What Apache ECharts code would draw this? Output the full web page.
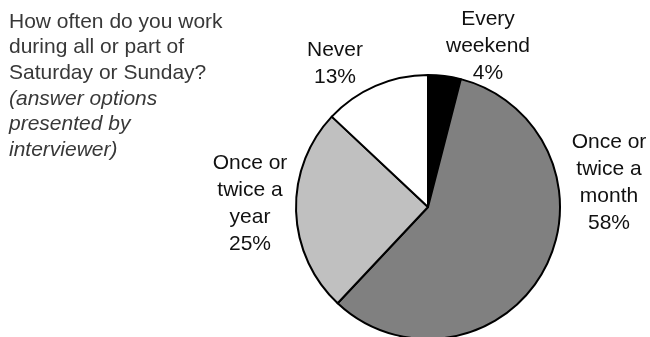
<!DOCTYPE html>
<html>
<head>
<meta charset="utf-8">
<script src="https://cdn.jsdelivr.net/npm/echarts@6/dist/echarts.min.js"></script>
<style>
  html, body { margin: 0; padding: 0; background: #fff; }
  #chart { width: 650px; height: 337px; }
</style>
</head>
<body>
<div id="chart"></div>
<script>
// Survey answers, clockwise from 12 o'clock
const categories = ['Every\nweekend', 'Once or\ntwice a\nmonth', 'Once or\ntwice a\nyear', 'Never'];
const shares = [4, 58, 25, 13];
const sliceColors = ['#000000', '#808080', '#c0c0c0', '#ffffff'];

// Where each slice's label block is centred
const labelSpots = [[488, 46], [609, 183], [250, 204], [335, 64]];

const questionLines = ['How often do you work', 'during all or part of', 'Saturday or Sunday?'];
const noteLines = ['(answer options', 'presented by', 'interviewer)'];

const chart = echarts.init(document.getElementById('chart'), null, { renderer: 'canvas' });

chart.setOption({
  animation: false,
  backgroundColor: '#ffffff',
  title: {
    left: 9,
    top: 9,
    padding: 0,
    text: questionLines.map(s => '{q|' + s + '}').concat(noteLines.map(s => '{n|' + s + '}')).join('\n'),
    textStyle: {
      fontWeight: 'normal',
      rich: {
        q: { fontFamily: 'Liberation Sans', fontSize: 21, fontWeight: 'normal', color: '#383838', lineHeight: 25.7 },
        n: { fontFamily: 'Liberation Sans', fontSize: 21, fontWeight: 'normal', fontStyle: 'italic', color: '#383838', lineHeight: 25.7 }
      }
    }
  },
  series: [{
    type: 'pie',
    center: [428, 207],
    radius: 132,
    startAngle: 90,
    clockwise: true,
    data: categories.map((name, i) => ({ name: name, value: shares[i], itemStyle: { color: sliceColors[i] } })),
    itemStyle: { borderColor: '#000000', borderWidth: 2 },
    emphasis: { disabled: true },
    label: {
      show: true,
      position: 'outside',
      overflow: 'none',
      formatter: p => p.name + '\n' + p.value + '%',
      fontFamily: 'Liberation Sans',
      fontSize: 21,
      lineHeight: 27,
      color: '#111111',
      align: 'center'
    },
    labelLine: { show: false },
    labelLayout: params => ({
      x: labelSpots[params.dataIndex][0],
      y: labelSpots[params.dataIndex][1],
      align: 'center',
      verticalAlign: 'middle'
    })
  }]
});
</script>
</body>
</html>
